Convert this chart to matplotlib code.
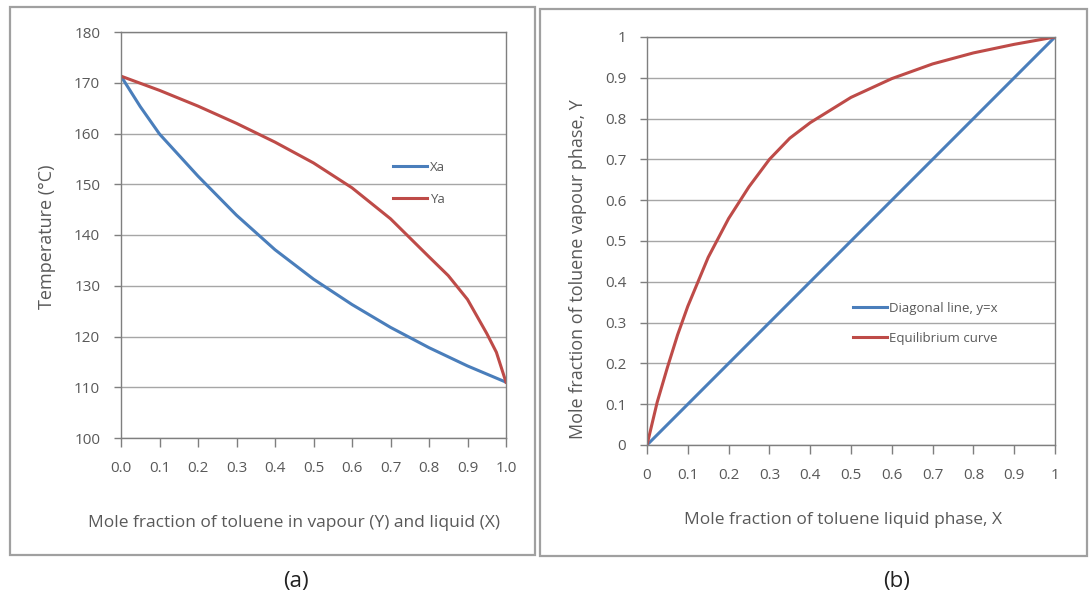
import matplotlib
matplotlib.use("Agg")
import matplotlib.pyplot as plt
from matplotlib.patches import Rectangle

plt.rcParams['font.family'] = ['Open Sans', 'DejaVu Sans']

# ---- data panel (a): temperature vs mole fraction ----
xa_frac = [0.0, 0.05, 0.1, 0.2, 0.3, 0.4, 0.5, 0.6, 0.7, 0.8, 0.9, 1.0]
xa_temp = [171.3, 165.3, 159.9, 151.6, 143.9, 137.1, 131.3, 126.3, 121.8, 117.8, 114.2, 111.0]
ya_frac = [0.0, 0.1, 0.2, 0.3, 0.4, 0.5, 0.6, 0.7, 0.8, 0.85, 0.9, 0.95, 0.975, 1.0]
ya_temp = [171.3, 168.5, 165.4, 162.0, 158.3, 154.2, 149.3, 143.2, 135.7, 132.0, 127.3, 120.6, 116.9, 111.0]

# ---- data panel (b): x-y equilibrium diagram ----
eq_x = [0.0, 0.025, 0.05, 0.075, 0.1, 0.15, 0.2, 0.25, 0.3, 0.35, 0.4, 0.5, 0.6, 0.7, 0.8, 0.9, 1.0]
eq_y = [0.0, 0.105, 0.19, 0.27, 0.34, 0.46, 0.555, 0.633, 0.70, 0.752, 0.79, 0.852, 0.898, 0.934, 0.961, 0.982, 1.0]
diag_x = [0.0, 1.0]
diag_y = [0.0, 1.0]

a_xticks = [0.0, 0.1, 0.2, 0.3, 0.4, 0.5, 0.6, 0.7, 0.8, 0.9, 1.0]
a_xlabels = ['0.0', '0.1', '0.2', '0.3', '0.4', '0.5', '0.6', '0.7', '0.8', '0.9', '1.0']
a_yticks = [100, 110, 120, 130, 140, 150, 160, 170, 180]
b_ticks = [0, 0.1, 0.2, 0.3, 0.4, 0.5, 0.6, 0.7, 0.8, 0.9, 1]
b_labels = ['0', '0.1', '0.2', '0.3', '0.4', '0.5', '0.6', '0.7', '0.8', '0.9', '1']

BLUE = '#4a7ebb'
RED = '#be4b48'
TXT = '#595959'
GRID = '#a6a6a6'
SPINE = '#7f7f7f'

W, H = 1089, 595
fig = plt.figure(figsize=(W / 100, H / 100), dpi=100)
fig.patch.set_facecolor('white')

def fx(px):
    return px / W

def fy(py):
    return 1 - py / H

def frame(x0, y0, x1, y1):
    r = Rectangle((fx(x0), fy(y1)), fx(x1 - x0), (y1 - y0) / H, transform=fig.transFigure,
                  fill=False, edgecolor='#a0a0a0', linewidth=1.6, zorder=0)
    fig.patches.append(r)

frame(10, 7, 535, 555)
frame(540, 9, 1087, 556)

def style(ax):
    for s in ax.spines.values():
        s.set_color(SPINE)
        s.set_linewidth(1.0)
    ax.grid(axis='y', color=GRID, linewidth=1.0)
    ax.set_axisbelow(True)
    ax.tick_params(axis='both', colors=SPINE, labelcolor=TXT, labelsize=11, width=1.0)
    ax.tick_params(axis='x', length=6.5, pad=10)
    ax.tick_params(axis='y', length=5, pad=10)

# ---- panel (a) ----
axa = fig.add_axes([fx(121), fy(438), fx(506 - 121), (438 - 32) / H])
axa.plot(xa_frac, xa_temp, color=BLUE, linewidth=2.2, label='Xa')
axa.plot(ya_frac, ya_temp, color=RED, linewidth=2.2, label='Ya')
axa.set_xlim(0, 1)
axa.set_ylim(100, 180)
axa.set_xticks(a_xticks)
axa.set_xticklabels(a_xlabels)
axa.set_yticks(a_yticks)
style(axa)
axa.set_xlabel('Mole fraction of toluene in vapour (Y) and liquid (X)', color=TXT, fontsize=12.5)
axa.set_ylabel('Temperature (\u00b0C)', color=TXT, fontsize=13)
axa.xaxis.label.set_va('center')
axa.yaxis.label.set_va('center')
axa.xaxis.set_label_coords(0.449, -0.209)
axa.yaxis.set_label_coords(-0.192, 0.495)
axa.legend(loc='center left', bbox_to_anchor=(0.706, 0.627), frameon=False, fontsize=9.5,
           labelcolor=TXT, handlelength=2.6, handletextpad=0.2, labelspacing=1.45,
           borderpad=0, borderaxespad=0)

# ---- panel (b) ----
axb = fig.add_axes([fx(647), fy(445), fx(1055 - 647), (445 - 37) / H])
axb.plot(diag_x, diag_y, color=BLUE, linewidth=2.2, label='Diagonal line, y=x')
axb.plot(eq_x, eq_y, color=RED, linewidth=2.2, label='Equilibrium curve')
axb.set_xlim(0, 1)
axb.set_ylim(0, 1)
axb.set_xticks(b_ticks)
axb.set_xticklabels(b_labels)
axb.set_yticks(b_ticks)
axb.set_yticklabels(b_labels)
style(axb)
axb.set_xlabel('Mole fraction of toluene liquid phase, X', color=TXT, fontsize=12.5)
axb.set_ylabel('Mole fraction of toluene vapour phase, Y', color=TXT, fontsize=13)
axb.xaxis.label.set_va('center')
axb.yaxis.label.set_va('center')
axb.xaxis.set_label_coords(0.48, -0.184)
axb.yaxis.set_label_coords(-0.169, 0.431)
axb.legend(loc='center left', bbox_to_anchor=(0.505, 0.298), frameon=False, fontsize=9.5,
           labelcolor=TXT, handlelength=2.6, handletextpad=0.15, labelspacing=1.3,
           borderpad=0, borderaxespad=0)

fig.text(fx(296), fy(582), '(a)', ha='center', va='center', fontsize=16, color='#222222')
fig.text(fx(897), fy(582), '(b)', ha='center', va='center', fontsize=16, color='#222222')

fig.savefig('out.png', dpi=100, facecolor='white')
